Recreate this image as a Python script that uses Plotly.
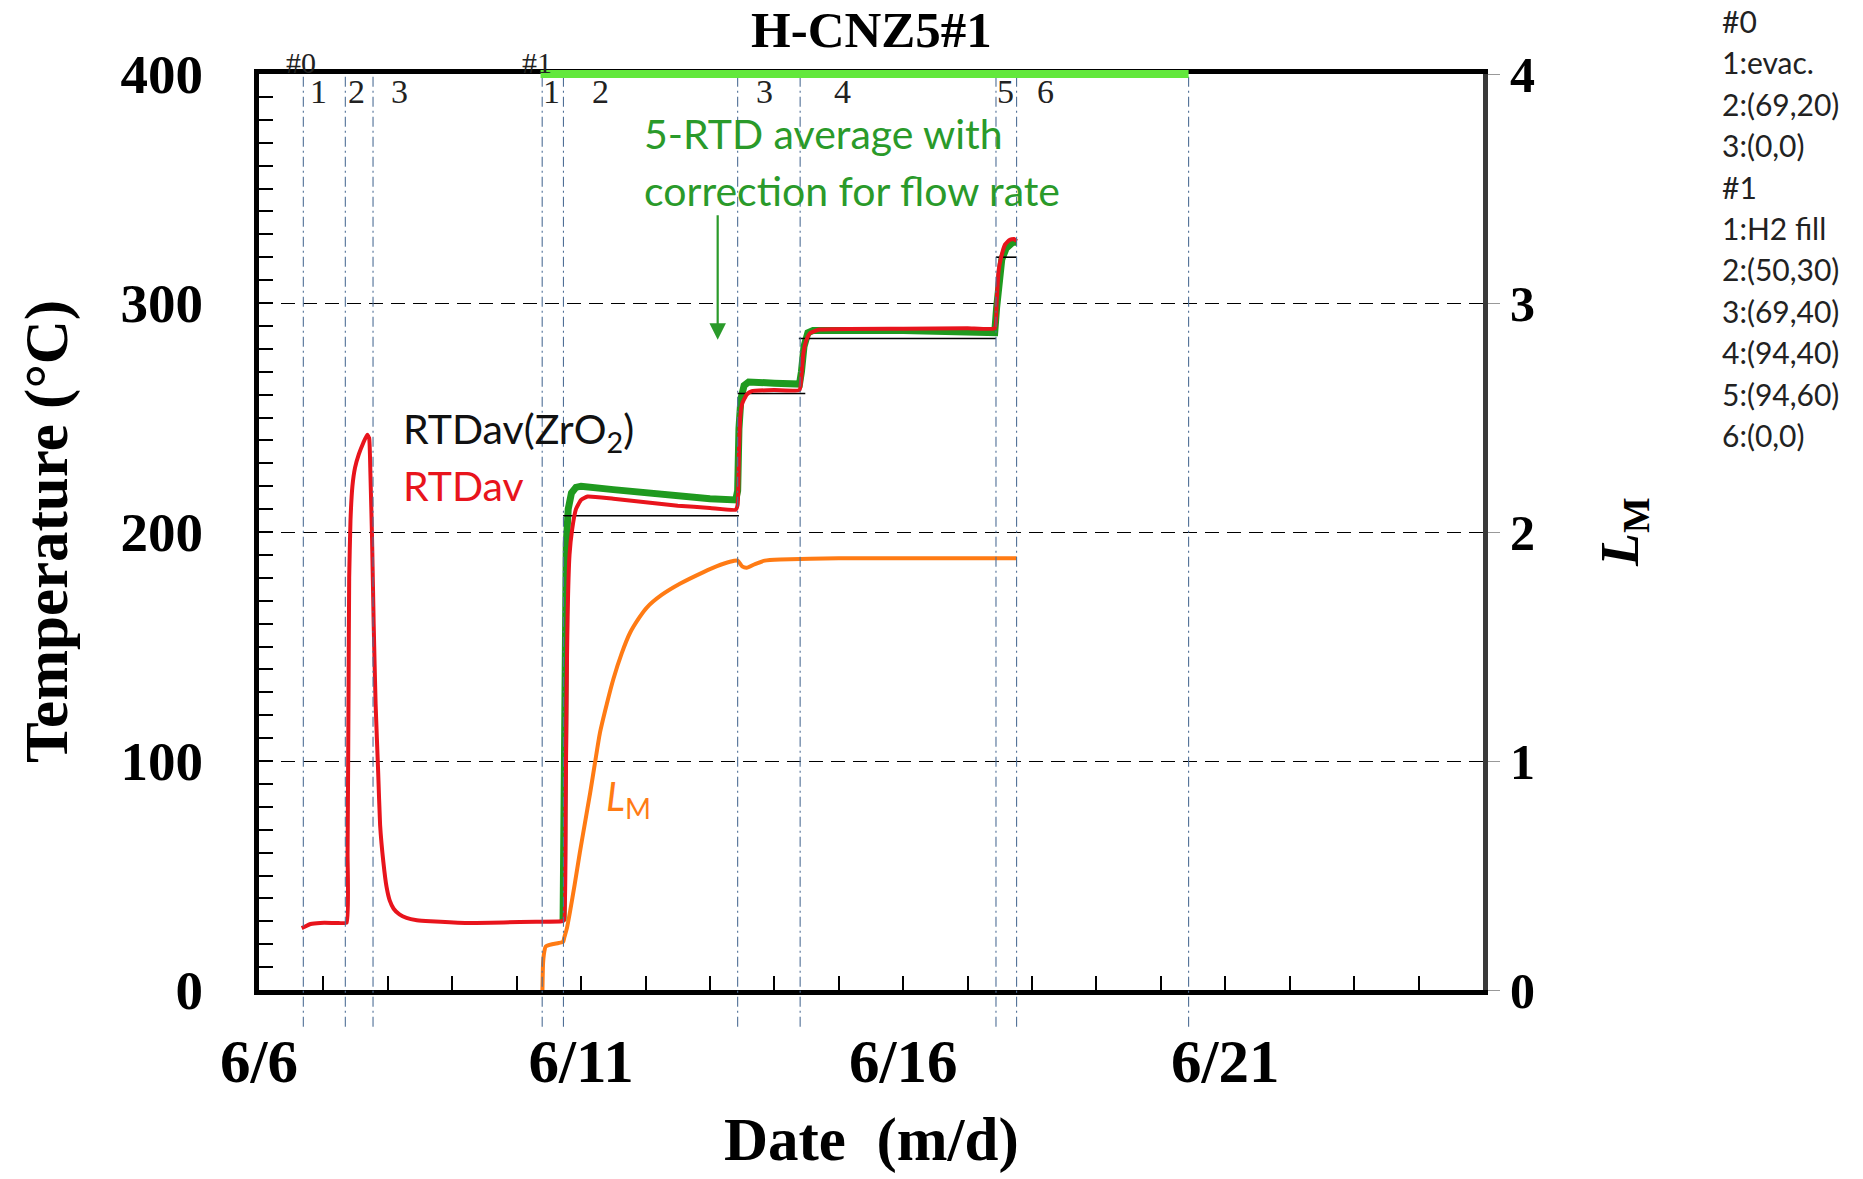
import pandas as pd
import plotly.graph_objects as go

# ---------------- data (days elapsed since 6/6 00:00) ----------------
BASE = pd.Timestamp("2015-06-06")

red_days = [0.663, 0.70, 0.80, 0.95, 1.20, 1.36, 1.375, 1.39, 1.40, 1.42, 1.45, 1.49, 1.55, 1.62,
            1.68, 1.71, 1.73, 1.755, 1.78, 1.81, 1.85, 1.88, 1.93, 1.98, 2.03, 2.09, 2.18, 2.29,
            2.45, 2.66, 3.2, 3.8, 4.3, 4.70, 4.735, 4.76, 4.775, 4.79, 4.82, 4.86, 4.92, 5.00,
            5.10, 5.5, 6.0, 6.5, 7.0, 7.40, 7.43, 7.45, 7.47, 7.50, 7.57, 7.65, 8.0, 8.39, 8.42,
            8.45, 8.50, 8.56, 8.7, 10.0, 11.0, 11.42, 11.45, 11.48, 11.52, 11.58, 11.65, 11.72, 11.76]
red_temp = [27.0, 27.5, 28.8, 29.3, 29.3, 29.4, 60, 130, 180, 205, 220, 228, 234, 239,
            242.5, 241, 225, 197, 160, 125, 95, 72, 56, 45, 39, 35.5, 33, 31.5,
            30.5, 30.0, 29.3, 29.5, 29.8, 30.0, 30.5, 80, 130, 163, 190, 201, 210, 214,
            215.5, 214.5, 213, 211.5, 210.5, 209.7, 212, 235, 250, 256, 260, 261.5, 262, 262, 268,
            278, 284, 287, 288.4, 288.8, 289, 289, 300, 314, 320, 325.5, 327.5, 328, 327]

green_days = [4.72, 4.725, 4.735, 4.75, 4.77, 4.80, 4.85, 4.92, 5.0, 5.5, 6.0, 6.5, 7.0, 7.40,
              7.43, 7.45, 7.48, 7.53, 7.6, 8.0, 8.39, 8.42, 8.46, 8.52, 8.6, 10.0, 11.0, 11.42,
              11.45, 11.49, 11.53, 11.6, 11.7, 11.76]
green_temp = [30, 30, 100, 160, 195, 210, 217, 219.5, 220, 218.5, 217, 215.5, 214.5, 214,
              218, 245, 258, 264, 265.5, 265, 264.6, 270, 281, 287, 288, 288, 287.5, 287,
              298, 312, 319, 324, 326.5, 326.5]

black_days = [4.72, 7.45, None, 7.43, 8.48, None, 8.38, 11.44, None, 11.44, 11.76]
black_temp = [207.1, 207.1, None, 260.5, 260.5, None, 284.5, 284.5, None, 320, 320]

lm_days = [4.40, 4.41, 4.43, 4.45, 4.55, 4.65, 4.72, 4.74, 4.78, 4.83, 4.90, 4.98, 5.06, 5.14,
           5.22, 5.29, 5.40, 5.50, 5.63, 5.76, 5.90, 6.02, 6.25, 6.54, 6.9, 7.1, 7.31, 7.43,
           7.50, 7.57, 7.7, 7.85, 8.09, 9.0, 10.0, 11.0, 11.76]
lm_vals = [0.0, 0.12, 0.17, 0.19, 0.20, 0.205, 0.21, 0.23, 0.27, 0.345, 0.46, 0.60, 0.73, 0.86,
           1.0, 1.12, 1.25, 1.357, 1.47, 1.56, 1.625, 1.67, 1.725, 1.775, 1.825, 1.85, 1.87, 1.875,
           1.85, 1.844, 1.86, 1.875, 1.88, 1.885, 1.885, 1.885, 1.885]

# event markers (days) and step labels
event_days = [0.688, 1.34, 1.77, 4.396, 4.726, 7.43, 8.40, 11.44, 11.76, 14.43]
step_label_days = [0.922, 1.513, 2.177, 4.538, 5.294, 7.84, 9.06, 11.58, 12.21]
step_labels = ["1", "2", "3", "1", "2", "3", "4", "5", "6"]
run_label_days = [0.647, 4.32]
run_labels = ["#0", "#1"]
green_bar_days = [4.37, 14.43]

condition_lines = ["#0", "1:evac.", "2:(69,20)", "3:(0,0)", "#1", "1:H2 fill",
                   "2:(50,30)", "3:(69,40)", "4:(94,40)", "5:(94,60)", "6:(0,0)"]

x_range_days = [0, 19]


def to_t(days):
    return [None if d is None else BASE + pd.Timedelta(days=d) for d in days]


SERIF = "Liberation Serif"
SANS = "Lato"

fig = go.Figure()
fig.add_trace(go.Scatter(x=to_t(green_days), y=green_temp, mode="lines",
                         line=dict(color="#1f9a1f", width=7), name="5-RTD corr."))
fig.add_trace(go.Scatter(x=to_t(black_days), y=black_temp, mode="lines",
                         line=dict(color="black", width=1.6), name="RTDav(ZrO2)"))
fig.add_trace(go.Scatter(x=to_t(red_days), y=red_temp, mode="lines",
                         line=dict(color="#e8141c", width=4, shape="spline", smoothing=0.4),
                         name="RTDav"))
fig.add_trace(go.Scatter(x=to_t(lm_days), y=lm_vals, mode="lines", yaxis="y2",
                         line=dict(color="#ff7b14", width=4, shape="spline", smoothing=0.5),
                         name="LM"))

# vertical event lines
for d in event_days:
    t = to_t([d])[0]
    fig.add_shape(type="line", xref="x", yref="paper", x0=t, x1=t, y0=-0.04, y1=1,
                  line=dict(color="#4f6f96", width=1.1, dash="10px,4px,2px,4px"), layer="above")

# green bar on top axis
gb = to_t(green_bar_days)
fig.add_shape(type="line", xref="x", yref="paper", x0=gb[0], x1=gb[1], y0=1, y1=1,
              line=dict(color="#62e83c", width=8), layer="above")

ann = []
for d, s in zip(step_label_days, step_labels):
    ann.append(dict(x=to_t([d])[0], y=1, xref="x", yref="paper", text=s, showarrow=False,
                    xanchor="center", yanchor="middle", yshift=-17, borderpad=0,
                    font=dict(family=SERIF, size=34, color="#222")))
for d, s in zip(run_label_days, run_labels):
    ann.append(dict(x=to_t([d])[0], y=1, xref="x", yref="paper", text=s, showarrow=False,
                    xanchor="center", yanchor="middle", yshift=12, borderpad=0,
                    font=dict(family=SERIF, size=30, color="#222")))

# title
ann.append(dict(x=0.5, y=1, xref="paper", yref="paper", yshift=44, text="H-CNZ5#1",
                showarrow=False, xanchor="center", yanchor="middle", borderpad=0,
                font=dict(family=SERIF, size=51, color="black", weight="bold")))
# axis titles
ann.append(dict(x=0, y=0.5, xref="paper", yref="paper", xshift=-212, text="Temperature (°C)",
                textangle=-90, showarrow=False, xanchor="center", yanchor="middle",
                font=dict(family=SERIF, size=61, color="black", weight="bold")))
ann.append(dict(x=0.5, y=0, xref="paper", yref="paper", yshift=-150, text="Date  (m/d)",
                showarrow=False, xanchor="center", yanchor="middle", borderpad=0,
                font=dict(family=SERIF, size=61, color="black", weight="bold")))
ann.append(dict(x=1, y=0.5, xref="paper", yref="paper", xshift=140,
                text="<i>L</i><sub>M</sub>", textangle=-90, showarrow=False,
                xanchor="center", yanchor="middle",
                font=dict(family=SERIF, size=54, color="black", weight="bold")))

# in-plot labels
ann.append(dict(x=to_t([5.94])[0], y=374, xref="x", yref="y", text="5-RTD average with",
                showarrow=False, xanchor="left", yanchor="middle",
                font=dict(family=SANS, size=41, color="#2a9a2a")))
ann.append(dict(x=to_t([5.94])[0], y=349, xref="x", yref="y", text="correction for flow rate",
                showarrow=False, xanchor="left", yanchor="middle",
                font=dict(family=SANS, size=41, color="#2a9a2a")))
ann.append(dict(x=to_t([7.12])[0], y=284, xref="x", yref="y", ax=to_t([7.12])[0], ay=339,
                axref="x", ayref="y", text="", showarrow=True, arrowhead=2, arrowsize=1.5,
                arrowwidth=2.2, arrowcolor="#2a9a2a"))
ann.append(dict(x=to_t([2.21])[0], y=244, xref="x", yref="y", text="RTDav(ZrO<sub>2</sub>)",
                showarrow=False, xanchor="left", yanchor="middle",
                font=dict(family=SANS, size=41, color="#111")))
ann.append(dict(x=to_t([2.21])[0], y=220.5, xref="x", yref="y", text="RTDav",
                showarrow=False, xanchor="left", yanchor="middle",
                font=dict(family=SANS, size=41, color="#e8141c")))
ann.append(dict(x=to_t([5.35])[0], y=83.5, xref="x", yref="y", text="<i>L</i><sub>M</sub>",
                showarrow=False, xanchor="left", yanchor="middle",
                font=dict(family=SANS, size=40, color="#ff7b14")))

# condition list on the right
for i, s in enumerate(condition_lines):
    ann.append(dict(x=1, y=1, xref="paper", yref="paper", xshift=237, yshift=53 - 41.4 * i,
                    text=s, showarrow=False, xanchor="left", yanchor="middle",
                    font=dict(family=SANS, size=30, color="#222")))

fig.update_layout(
    width=1863, height=1179,
    margin=dict(l=259, r=380, t=74, b=189),
    paper_bgcolor="white", plot_bgcolor="white",
    showlegend=False,
    annotations=ann,
    xaxis=dict(
        type="date", range=to_t(x_range_days), tick0=BASE, dtick=5 * 86400000,
        tickformat="%-m/%-d", ticks="inside", ticklen=14, tickwidth=2, tickcolor="black",
        minor=dict(dtick=86400000, ticks="inside", ticklen=14, tickwidth=2, tickcolor="black",
                   showgrid=False),
        showline=True, linewidth=5, linecolor="black", mirror=True, showgrid=False,
        zeroline=False, ticklabelstandoff=14,
        tickfont=dict(family=SERIF, size=61, color="black", weight="bold"),
    ),
    yaxis=dict(
        range=[0, 400], dtick=100, ticks="inside", ticklen=14, tickwidth=2, tickcolor="black",
        minor=dict(dtick=10, ticks="inside", ticklen=14, tickwidth=2, tickcolor="black",
                   showgrid=False),
        showline=True, linewidth=5, linecolor="black", mirror=False,
        showgrid=True, gridcolor="black", gridwidth=1.3, griddash="14px,8px",
        zeroline=False, ticklabelstandoff=40,
        tickfont=dict(family=SERIF, size=55, color="black", weight="bold"),
    ),
    yaxis2=dict(
        range=[0, 4], dtick=1, overlaying="y", side="right", ticks="outside", ticklen=12,
        tickwidth=1, tickcolor="#999", showline=True, linewidth=5, linecolor="#3a3a3a",
        showgrid=False, zeroline=False, ticklabelstandoff=0,
        tickfont=dict(family=SERIF, size=50, color="black", weight="bold"),
    ),
)

fig.write_html("out.html")
